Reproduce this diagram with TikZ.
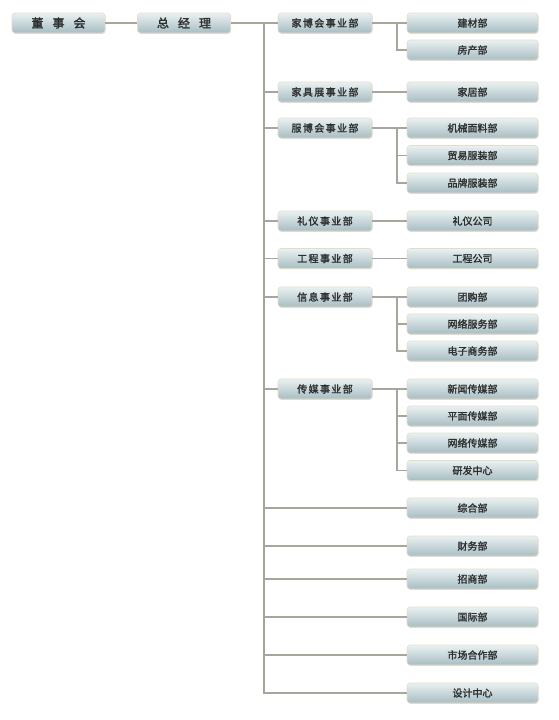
\documentclass[tikz,border=0pt]{standalone}
\usepackage{fontspec}
\usepackage{tikz}
\usetikzlibrary{calc,shadows}
\newfontfamily\cjk[FakeBold=1.8]{Noto Sans CJK SC}
\newfontfamily\cjkmid[FakeBold=1.8,LetterSpace=14]{Noto Sans CJK SC}
\newfontfamily\cjkwide[FakeBold=2,LetterSpace=75]{Noto Sans CJK SC}
\definecolor{boxtop}{HTML}{EAF1F2}
\definecolor{boxbot}{HTML}{A7BDC2}
\definecolor{boxrim}{HTML}{E4DDC6}
\definecolor{wire}{HTML}{A8A59C}
\definecolor{ink}{HTML}{2E3030}

\begin{document}
\begin{tikzpicture}[x=1pt, y=-1pt,
		box/.style={draw=boxrim, line width=0.6pt, rounded corners=3pt, top color=boxtop, bottom color=boxbot,
			minimum height=20pt, inner sep=0pt, text=ink, drop shadow={shadow xshift=0.6pt, shadow yshift=-0.8pt, opacity=0.25}},
		topbox/.style={box, minimum width=93pt, font=\cjkwide\fontsize{12}{12}\selectfont},
		divbox/.style={box, minimum width=94pt, font=\cjkmid\fontsize{10}{10}\selectfont},
		deptbox/.style={box, minimum width=131pt, font=\cjk\fontsize{10}{10}\selectfont},
		wire/.style={draw=wire, line width=1.5pt}]
			%%%%% START %%%%%
			\useasboundingbox (0, 0) rectangle (558, 720);
			
			\node[topbox] (board) at (58.5, 23) {董事会};
			\node[topbox] (ceo) at (184, 23) {总经理};
			\coordinate (trunk) at (264, 23);
			
			% divisions
			\node[divbox] (jbh) at (325, 23) {家博会事业部};
			\node[divbox] (jjz) at (325, 92) {家具展事业部};
			\node[divbox] (fbh) at (325, 128) {服博会事业部};
			\node[divbox] (lyi) at (325, 221) {礼仪事业部};
			\node[divbox] (gch) at (325, 258.5) {工程事业部};
			\node[divbox] (xxi) at (325, 297) {信息事业部};
			\node[divbox] (cmt) at (325, 389) {传媒事业部};
			
			% departments
			\node[deptbox] (jcb) at (472.5, 23) {建材部};
			\node[deptbox] (fcb) at (472.5, 50) {房产部};
			\node[deptbox] (jjb) at (472.5, 92) {家居部};
			\node[deptbox] (jxm) at (472.5, 128) {机械面料部};
			\node[deptbox] (myf) at (472.5, 155.5) {贸易服装部};
			\node[deptbox] (ppf) at (472.5, 183) {品牌服装部};
			\node[deptbox] (lyg) at (472.5, 221) {礼仪公司};
			\node[deptbox] (gcg) at (472.5, 258.5) {工程公司};
			\node[deptbox] (tgb) at (472.5, 297) {团购部};
			\node[deptbox] (wlf) at (472.5, 324) {网络服务部};
			\node[deptbox] (dzs) at (472.5, 351) {电子商务部};
			\node[deptbox] (xwc) at (472.5, 389) {新闻传媒部};
			\node[deptbox] (pmc) at (472.5, 416) {平面传媒部};
			\node[deptbox] (wlc) at (472.5, 443) {网络传媒部};
			\node[deptbox] (yfz) at (472.5, 470.5) {研发中心};
			\node[deptbox] (zhb) at (472.5, 508) {综合部};
			\node[deptbox] (cwb) at (472.5, 546) {财务部};
			\node[deptbox] (zsb) at (472.5, 579) {招商部};
			\node[deptbox] (gjb) at (472.5, 617) {国际部};
			\node[deptbox] (sch) at (472.5, 655) {市场合作部};
			\node[deptbox] (sjz) at (472.5, 693) {设计中心};
			
			\coordinate (jbhfork) at (397, 23);
			\coordinate (fbhfork) at (397, 128);
			\coordinate (xxifork) at (397, 297);
			\coordinate (cmtfork) at (397, 389);
			
			\draw[wire] (board) -- (ceo);
			\draw[wire] (ceo) -- (trunk);
			\foreach \d in {jbh, jjz, fbh, lyi, gch, xxi, cmt}
				\draw[wire] (trunk) |- (\d.west);
			\foreach \d in {zhb, cwb, zsb, gjb, sch, sjz}
				\draw[wire] (trunk) |- (\d.west);
			
			\draw[wire] (jbh) -- (jcb);
			\draw[wire] (jbhfork) |- (fcb.west);
			\draw[wire] (jjz) -- (jjb);
			\draw[wire] (fbh) -- (jxm);
			\foreach \d in {myf, ppf}
				\draw[wire] (fbhfork) |- (\d.west);
			\draw[wire] (lyi) -- (lyg);
			\draw[wire] (gch) -- (gcg);
			\draw[wire] (xxi) -- (tgb);
			\foreach \d in {wlf, dzs}
				\draw[wire] (xxifork) |- (\d.west);
			\draw[wire] (cmt) -- (xwc);
			\foreach \d in {pmc, wlc, yfz}
				\draw[wire] (cmtfork) |- (\d.west);
			
			%%%%% END %%%%%
		\end{tikzpicture}
\end{document}
